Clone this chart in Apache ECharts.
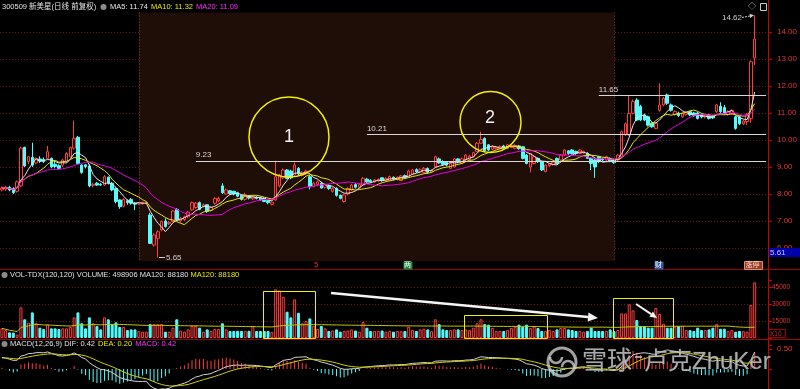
<!DOCTYPE html>
<html>
<head>
<meta charset="utf-8">
<script src="https://cdn.jsdelivr.net/npm/echarts@6.0.0/dist/echarts.min.js"></script>
<style>
html,body{margin:0;padding:0;background:#000;overflow:hidden;}
#chart{width:800px;height:389px;}
</style>
</head>
<body>
<div id="chart"></div>
<script>
// ---------------- data ----------------
const opens = [
8.15,8.18,8.25,8.20,8.10,8.30,9.73,9.20,9.36,9.15,
9.30,9.28,9.32,9.32,9.10,9.05,9.07,9.20,9.38,9.70,
10.10,9.07,9.08,9.04,8.32,8.40,8.36,8.33,8.62,8.40,
8.20,7.78,7.55,7.75,7.80,7.66,7.63,7.64,7.66,7.22,
6.11,6.36,6.67,7.00,6.90,6.98,7.43,7.00,7.05,7.15,
7.41,7.50,7.68,7.55,7.60,7.40,7.66,7.75,8.30,8.00,
8.12,8.10,8.05,7.95,7.80,7.90,7.82,7.88,7.85,7.84,
7.75,7.62,7.78,8.30,8.60,8.89,8.85,8.70,8.95,8.70,
8.75,8.64,8.28,8.35,8.40,8.25,8.30,8.10,8.21,7.95,
7.72,8.00,8.15,8.35,8.25,8.33,8.55,8.50,8.45,8.48,
8.60,8.50,8.50,8.62,8.55,8.50,8.68,8.62,8.74,8.90,
8.82,8.80,8.95,8.82,9.00,9.30,9.20,9.18,8.95,9.00,
9.30,9.15,9.26,9.28,9.38,9.57,9.88,10.06,9.82,9.66,
9.68,9.70,9.78,9.69,9.72,9.70,9.78,9.75,9.44,9.00,
9.13,9.32,9.20,8.83,9.05,9.10,9.32,9.26,9.44,9.60,
9.63,9.58,9.50,9.52,9.50,9.32,9.26,9.38,9.30,9.26,
9.32,9.28,9.26,9.38,10.19,10.19,10.99,11.48,11.24,10.93,
10.86,10.62,10.43,11.10,11.30,11.67,11.30,10.95,11.00,10.86,
10.95,11.05,11.00,11.00,10.95,10.85,10.93,10.90,11.05,11.25,
11.20,10.95,10.98,10.86,10.86,10.60,10.68,10.80,13.04];
const closes = [
8.22,8.25,8.15,8.05,8.45,9.70,9.04,9.38,9.07,9.32,
9.22,9.20,9.57,9.00,9.02,8.95,9.26,9.50,9.72,10.06,
9.13,8.80,9.02,8.30,8.36,8.33,8.33,8.64,8.40,8.15,
7.72,7.53,7.80,7.68,7.66,7.62,7.66,7.68,7.68,6.17,
6.48,6.60,6.98,6.80,6.95,7.37,7.04,7.10,7.15,7.33,
7.68,7.66,7.43,7.60,7.35,7.50,7.84,7.84,8.05,8.15,
8.02,8.00,7.92,7.80,7.98,7.85,7.90,7.84,7.78,7.72,
7.68,7.70,8.64,8.70,8.89,8.58,8.60,9.07,8.75,8.80,
8.85,8.27,8.40,8.45,8.22,8.35,8.20,8.20,7.95,7.84,
7.96,8.20,8.33,8.25,8.35,8.58,8.45,8.45,8.52,8.55,
8.50,8.58,8.65,8.55,8.62,8.67,8.62,8.85,8.89,8.82,
8.90,8.95,8.80,8.88,9.38,9.15,9.10,9.07,9.13,9.30,
9.20,9.30,9.44,9.40,9.53,9.88,10.02,9.60,9.63,9.75,
9.74,9.76,9.72,9.82,9.78,9.80,9.68,9.32,9.13,9.50,
9.38,9.20,8.89,9.07,9.12,9.18,9.13,9.44,9.63,9.50,
9.50,9.50,9.63,9.58,9.32,9.13,9.00,9.20,9.26,9.38,
9.20,9.16,9.44,10.31,10.60,10.98,11.42,10.74,10.74,10.74,
10.55,10.49,10.62,11.30,11.54,11.36,11.10,11.05,10.90,10.99,
11.02,10.93,10.90,10.80,10.85,10.92,10.80,10.82,11.30,11.05,
10.98,11.05,11.10,10.43,10.60,10.70,10.95,12.90,13.74];
const lows = [
8.10,8.12,8.10,8.00,8.05,8.25,9.00,9.10,9.00,9.10,
9.15,9.15,9.30,8.95,8.95,8.90,9.00,9.15,9.35,9.65,
9.10,8.75,8.95,8.25,8.25,8.30,8.30,8.30,8.35,8.10,
7.65,7.45,7.50,7.60,7.60,7.40,7.60,7.60,7.62,6.15,
6.05,5.65,6.62,6.75,6.85,6.95,7.00,6.95,7.00,7.10,
7.38,7.45,7.40,7.50,7.30,7.35,7.60,7.70,8.00,7.98,
7.98,7.95,7.88,7.76,7.75,7.80,7.78,7.80,7.75,7.70,
7.62,7.58,7.75,8.25,8.55,8.55,8.55,8.65,8.70,8.65,
8.70,8.17,8.25,8.30,8.20,8.20,8.15,8.05,7.90,7.80,
7.68,7.95,8.10,8.20,8.20,8.30,8.40,8.42,8.42,8.45,
8.45,8.48,8.48,8.50,8.50,8.48,8.58,8.60,8.70,8.78,
8.78,8.78,8.75,8.80,8.98,9.12,9.05,9.02,8.92,8.98,
9.15,9.12,9.22,9.25,9.35,9.55,9.85,9.55,9.60,9.62,
9.65,9.66,9.68,9.66,9.70,9.66,9.64,9.28,9.10,8.80,
9.10,9.15,8.85,8.80,9.00,9.05,9.10,9.22,9.40,9.45,
9.46,9.45,9.48,9.50,9.30,8.89,8.60,9.15,9.20,9.22,
9.18,9.12,9.22,9.35,10.15,10.15,10.95,10.70,10.70,10.70,
10.50,10.45,10.40,11.05,11.25,11.30,11.05,10.90,10.85,10.82,
10.90,10.88,10.86,10.76,10.80,10.80,10.76,10.78,11.00,11.00,
10.94,10.90,10.94,10.38,10.55,10.55,10.55,10.63,12.78];
const highs = [
8.28,8.30,8.30,8.25,8.50,9.75,9.75,9.40,9.90,9.35,
9.40,9.35,9.78,9.35,9.20,9.10,9.30,9.55,9.75,10.72,
10.15,9.10,9.10,9.10,8.42,8.45,8.40,8.70,8.65,8.45,
8.25,7.80,7.85,7.80,7.85,7.70,7.70,7.72,7.72,7.30,
6.55,6.65,7.02,7.10,7.00,7.40,7.48,7.15,7.20,7.38,
7.72,7.70,7.72,7.65,7.62,7.55,7.88,7.90,8.40,8.20,
8.15,8.12,8.08,7.98,8.05,7.95,7.95,7.92,7.90,7.88,
7.78,7.72,9.23,8.75,8.95,8.92,8.90,9.17,9.00,8.85,
8.90,8.70,8.45,8.50,8.45,8.40,8.35,8.25,8.25,7.98,
8.00,8.25,8.38,8.40,8.40,8.62,8.60,8.55,8.55,8.58,
8.62,8.62,8.68,8.65,8.65,8.70,8.72,8.90,8.92,8.95,
8.95,9.00,8.98,8.92,9.42,9.35,9.25,9.20,9.18,9.33,
9.33,9.35,9.48,9.45,9.56,9.92,10.31,10.10,9.85,9.80,
9.78,9.80,9.82,9.85,9.82,9.84,9.82,9.78,9.48,9.52,
9.42,9.35,9.22,9.10,9.15,9.20,9.35,9.48,9.66,9.62,
9.66,9.60,9.66,9.60,9.55,9.35,9.30,9.40,9.35,9.42,
9.35,9.30,9.48,10.35,10.65,11.65,11.50,11.55,11.30,10.98,
10.90,10.65,10.66,12.10,11.60,11.72,11.35,11.10,11.05,11.03,
11.06,11.08,11.04,11.04,10.98,10.96,10.96,10.94,11.34,11.40,
11.30,11.10,11.14,10.90,10.90,10.75,11.00,12.95,14.62];
// volume in the axis unit (x10 shares)
const volumes = [
8500,7000,5000,4800,3000,27000,16500,13500,22600,13000,
9100,7900,12000,8500,8500,7900,8500,8500,9700,18200,
22600,13000,8500,18200,13000,10500,7600,18200,16500,12000,
13800,9700,9700,7000,7600,7600,6000,5600,5600,12300,
12300,12300,12300,5600,5600,9100,16500,6600,5600,7600,
10600,10600,9100,5600,7600,6200,7900,7900,13000,7600,
6200,6200,6400,6200,6200,6400,10600,6200,6200,6200,
6200,5300,43000,42000,36400,23200,18200,34100,22300,13000,
15000,17300,10600,8000,10600,8500,6200,6600,7600,5600,
6200,6600,7600,6600,5600,14100,9100,6200,6200,6200,
6600,5600,6200,5600,6200,6000,6200,10000,7000,6200,
7600,8200,7600,6000,16500,12300,7600,7000,7000,7600,
7600,7000,7600,7000,9100,13000,16500,12300,11800,8800,
6200,6200,6200,7000,8800,10000,11800,10000,11800,8800,
10000,8800,6200,6200,7000,6200,7600,8800,8800,7600,
7000,6200,6200,5600,6200,9100,6200,6200,6200,6200,
7600,6000,7000,21700,21700,29700,24400,15900,10500,10500,
9100,9100,26500,21200,12600,9100,9100,10000,10600,10800,
7000,7000,6200,9100,7000,7000,7600,9100,12300,8200,
8200,6200,7000,5600,6200,6000,5600,29100,49100];

const N_SLOTS = 202;                 // trading-day slots on the x axis (last 3 empty)
const categories = [];
for (let i = 0; i < N_SLOTS; i++) categories.push('D' + (i + 1));

const priceLines = [9.23, 10.21, 11.65];     // drawn support / resistance levels
const priceLineStart = [51, 96, 157];        // category index where each level starts
const shadeRange = [36, 161];                // shaded period (category indices)
const volTicks = [15000, 30000, 45000];
// MACD state at the left edge (DIF ~0.31, DEA ~0.27)
const macdSeed = {difStart: 0.31, deaStart: 0.27};
const headerMain = {title: '300509 新美星(日线 前复权)', ma5: 'MA5: 11.74', ma10: 'MA10: 11.32', ma20: 'MA20: 11.09'};
const headerVol = {a: 'VOL-TDX(120,120) VOLUME: 498906 MA120: 88180', b: 'MA120: 88180'};
const headerMacd = {a: 'MACD(12,26,9) DIF: 0.42', b: 'DEA: 0.20', c: 'MACD: 0.42'};

// ---------------- indicators derived from the candles ----------------
function movingAverage(vals, n) {
  const out = []; let sum = 0;
  for (let i = 0; i < vals.length; i++) {
    sum += vals[i]; if (i >= n) sum -= vals[i - n];
    out.push(+(sum / Math.min(i + 1, n)).toFixed(4));
  }
  return out;
}
function ema(vals, n, start) {
  const k = 2 / (n + 1); const out = []; let e = (start === undefined) ? vals[0] : start;
  for (const v of vals) { e = e + k * (v - e); out.push(e); }
  return out;
}
const ma5 = movingAverage(closes, 5);
const ma10 = movingAverage(closes, 10);
const ma20 = movingAverage(closes, 20);
const volMa = movingAverage(volumes, 120);
const e12 = ema(closes, 12, closes[0]);
const e26 = ema(closes, 26, closes[0] - macdSeed.difStart);
const dif = closes.map((c, i) => +(e12[i] - e26[i]).toFixed(4));
const dea = ema(dif, 9, macdSeed.deaStart).map(v => +v.toFixed(4));
const macd = dif.map((d, i) => +(2 * (d - dea[i])).toFixed(4));

// ---------------- chart ----------------
const RED = '#ff3c3c', CYAN = '#54fcfc', AXIS = '#c80000', LBL = '#e23838', GRIDC = '#6e1818';
const FONT = '"Liberation Sans","Noto Sans CJK SC",sans-serif';
const chart = echarts.init(document.getElementById('chart'), null, {renderer: 'canvas'});

const candleData = opens.map((o, i) => [o, closes[i], lows[i], highs[i]]);
const volData = volumes.map((v, i) => ({
  value: v,
  itemStyle: closes[i] >= opens[i]
    ? {color: 'rgba(0,0,0,0)', borderColor: RED, borderWidth: 1}
    : {color: CYAN, borderColor: CYAN, borderWidth: 1}
}));
const macdData = macd.map(v => ({value: v, itemStyle: {color: v >= 0 ? RED : CYAN}}));

function rightAxis(gridIndex, extra) {
  return Object.assign({
    gridIndex, type: 'value', position: 'right', scale: false,
    axisLine: {show: true, onZero: false, lineStyle: {color: AXIS, width: 1}},
    axisTick: {show: true, length: 4, lineStyle: {color: AXIS}},
    splitLine: {show: false}
  }, extra);
}

const levelLines = priceLines.map((p, k) => [
  {coord: [categories[priceLineStart[k]], p],
   label: {show: true, position: 'insideStartTop', formatter: p.toFixed(2), color: '#d8d8d8', fontSize: 8, fontFamily: FONT, distance: [0, 2]}},
  {coord: [categories[N_SLOTS - 1], p]}
]);

function arrow(x1, y1, x2, y2, color, w, head) {
  const a = Math.atan2(y2 - y1, x2 - x1);
  const hx = x2 - head * Math.cos(a), hy = y2 - head * Math.sin(a);
  const px = -Math.sin(a) * head * 0.45, py = Math.cos(a) * head * 0.45;
  return [
    {type: 'line', z: 100, silent: true, shape: {x1, y1, x2: hx, y2: hy}, style: {stroke: color, lineWidth: w}},
    {type: 'polygon', z: 100, silent: true, shape: {points: [[x2, y2], [hx + px, hy + py], [hx - px, hy - py]]}, style: {fill: color}}
  ];
}
function txt(x, y, text, fill, size, extra) {
  return Object.assign({type: 'text', z: 100, silent: true, x, y,
    style: Object.assign({text, fill, font: size + 'px ' + FONT, verticalAlign: 'middle', align: 'left'}, (extra || {}))});
}
function box(x, y, w, h, fill, stroke) {
  return {type: 'rect', z: 100, silent: true, shape: {x, y, width: w, height: h}, style: {fill, stroke: stroke || null, lineWidth: 1}};
}

const mctx = document.createElement('canvas').getContext('2d');
function tw(s, size) { mctx.font = size + 'px ' + FONT; return mctx.measureText(s).width; }

const graphics = [
  {type: 'line', z: 90, silent: true, shape: {x1: 768.5, y1: 0, x2: 768.5, y2: 389}, style: {stroke: AXIS, lineWidth: 1}},
  {type: 'line', z: 90, silent: true, shape: {x1: 0, y1: 269.5, x2: 800, y2: 269.5}, style: {stroke: '#a00000', lineWidth: 1}},
  {type: 'line', z: 90, silent: true, shape: {x1: 0, y1: 339.5, x2: 800, y2: 339.5}, style: {stroke: '#a00000', lineWidth: 1}},
  txt(2, 7, headerMain.title, '#e0e0e0', 7.5),
  {type: 'circle', z: 100, silent: true, shape: {cx: 103.5, cy: 7, r: 3}, style: {fill: '#8a8a8a'}},
  txt(110, 7, headerMain.ma5, '#e8e8e8', 7.5),
  txt(151, 7, headerMain.ma10, '#e8e800', 7.5),
  txt(196, 7, headerMain.ma20, '#ff30ff', 7.5),
  {type: 'circle', z: 100, silent: true, shape: {cx: 4.5, cy: 275, r: 3}, style: {fill: '#8a8a8a'}},
  txt(10, 275, headerVol.a, '#e0e0e0', 7.5),
  txt(12 + tw(headerVol.a, 7.5), 275, headerVol.b, '#e8e800', 7.5),
  {type: 'circle', z: 100, silent: true, shape: {cx: 4.5, cy: 344, r: 3}, style: {fill: '#8a8a8a'}},
  txt(10, 344, headerMacd.a, '#e0e0e0', 7.5),
  txt(13 + tw(headerMacd.a, 7.5), 344, headerMacd.b, '#e8e800', 7.5),
  txt(16 + tw(headerMacd.a, 7.5) + tw(headerMacd.b, 7.5), 344, headerMacd.c, '#ff30ff', 7.5),
  txt(748, 7, '◇', '#c8c8c8', 8),
  box(760.5, 3.5, 6, 7, 'rgba(0,0,0,0)', '#c8c8c8'),
  txt(722, 18, '14.62', '#d0d0d0', 8),
  {type: 'line', z: 100, silent: true, shape: {x1: 742, y1: 17.5, x2: 750, y2: 16}, style: {stroke: '#d0d0d0', lineWidth: 1, lineDash: [2, 1]}},
  {type: 'polygon', z: 100, silent: true, shape: {points: [[754, 15.3], [749.5, 13.8], [750.2, 18]]}, style: {fill: '#d0d0d0'}},
  {type: 'line', z: 100, silent: true, shape: {x1: 159, y1: 257.5, x2: 165, y2: 257.5}, style: {stroke: '#d0d0d0', lineWidth: 1}},
  txt(166, 257.5, '5.65', '#d0d0d0', 8),
  box(769, 248, 31, 9, '#0000a8'),
  txt(770, 252.5, '5.61', '#c8c8ff', 8),
  txt(314, 265, '5', '#e03030', 8),
  box(403.5, 261.5, 9, 8, '#1e8a3c'),
  txt(404, 265.5, '两', '#ffffff', 7),
  box(654.5, 261.5, 9, 8, '#2e5e9e'),
  txt(655, 265.5, '财', '#ffffff', 7),
  box(744.5, 261.5, 18, 8, '#9a3a22', '#d89070'),
  txt(745.5, 265.5, '涨停', '#ffe0d0', 7),
  {type: 'circle', z: 100, silent: true, shape: {cx: 289, cy: 137, r: 40}, style: {fill: 'none', stroke: '#f0f000', lineWidth: 1.5}},
  txt(284, 137, '1', '#f0f0f0', 18),
  {type: 'circle', z: 100, silent: true, shape: {cx: 490.5, cy: 122, r: 30.5}, style: {fill: 'none', stroke: '#f0f000', lineWidth: 1.5}},
  txt(485, 118, '2', '#f0f0f0', 18),
  box(263.5, 291.5, 52, 47, 'rgba(0,0,0,0)', '#f0f000'),
  box(464.5, 315.5, 83, 23, 'rgba(0,0,0,0)', '#f0f000'),
  box(613.5, 298.5, 60, 40, 'rgba(0,0,0,0)', '#f0f000'),
  box(768.5, 329.5, 17, 8, 'rgba(0,0,0,0)', '#a00000'),
  txt(770, 334, 'X10', '#c03030', 6.5),
  {type: 'circle', z: 110, silent: true, shape: {cx: 562, cy: 362, r: 14}, style: {fill: 'none', stroke: 'rgba(215,215,215,0.75)', lineWidth: 3}},
  {type: 'arc', z: 110, silent: true, shape: {cx: 556, cy: 357, r: 6, startAngle: 0, endAngle: Math.PI}, style: {fill: 'none', stroke: 'rgba(215,215,215,0.75)', lineWidth: 2.5}},
  {type: 'arc', z: 110, silent: true, shape: {cx: 568, cy: 367, r: 6, startAngle: Math.PI, endAngle: 2 * Math.PI}, style: {fill: 'none', stroke: 'rgba(215,215,215,0.75)', lineWidth: 2.5}},
  txt(582, 362, '雪球', 'rgba(215,215,215,0.78)', 25, {stroke: 'rgba(40,40,40,0.6)', lineWidth: 1}),
  {type: 'line', z: 110, silent: true, shape: {x1: 635, y1: 357, x2: 642, y2: 357}, style: {stroke: 'rgba(215,215,215,0.7)', lineWidth: 2}},
  txt(644, 362, '卢克ZhuKer', 'rgba(215,215,215,0.78)', 24, {stroke: 'rgba(40,40,40,0.6)', lineWidth: 1})
].concat(arrow(331, 293, 598, 318, '#f4f4f4', 2.5, 10))
 .concat(arrow(636, 304, 657, 318, '#f4f4f4', 2, 7));

const option = {
  backgroundColor: '#000',
  animation: false,
  grid: [
    {left: 0, right: 32, top: 5, height: 270},
    {left: 0, right: 32, top: 280, height: 58},
    {left: 0, right: 32, top: 344.8, height: 57.2}
  ],
  xAxis: [0, 1, 2].map(g => ({type: 'category', gridIndex: g, data: categories, boundaryGap: true, show: false})),
  yAxis: [
    rightAxis(0, {min: 5, max: 15, interval: 1,
      axisLabel: {color: LBL, fontSize: 8, fontFamily: FONT, margin: 9, showMinLabel: false, showMaxLabel: false, formatter: v => v.toFixed(2)},
      splitLine: {show: true, showMinLine: false, showMaxLine: false, lineStyle: {color: GRIDC, type: [1, 2]}}}),
    rightAxis(1, {min: 0, max: 51200, interval: 15000,
      axisLabel: {color: LBL, fontSize: 6.5, fontFamily: FONT, margin: 4, formatter: v => volTicks.indexOf(v) >= 0 ? String(v) : ''},
      splitLine: {show: true, showMinLine: false, showMaxLine: false, lineStyle: {color: GRIDC, type: [1, 2]}}}),
    rightAxis(2, {min: -0.5, max: 0.6, interval: 0.5,
      axisLabel: {color: LBL, fontSize: 8, fontFamily: FONT, margin: 9, formatter: v => Math.abs(v - 0.5) < 1e-6 ? '0.50' : ''}})
  ],
  series: [
    {name: 'shade', type: 'line', xAxisIndex: 0, yAxisIndex: 0, data: closes, z: 0, silent: true,
     symbol: 'none', lineStyle: {opacity: 0},
     markArea: {silent: true, itemStyle: {color: '#1f0d07'},
       data: [[{xAxis: categories[shadeRange[0]], yAxis: 14.72}, {xAxis: categories[shadeRange[1]], yAxis: 5.52}]]},
     markLine: {silent: true, symbol: ['none', 'none'], label: {show: false}, lineStyle: {color: '#8a4a2a', width: 1, type: [1, 2]},
       data: shadeRange.map(ix => [{coord: [categories[ix], 14.72]}, {coord: [categories[ix], 5.52]}])}},
    {name: 'K', type: 'candlestick', xAxisIndex: 0, yAxisIndex: 0, data: candleData, z: 3, barWidth: 3,
     itemStyle: {color: 'rgba(0,0,0,0)', color0: CYAN, borderColor: RED, borderColor0: CYAN, borderWidth: 1},
     markLine: {silent: true, symbol: ['none', 'none'], lineStyle: {color: '#d8d8d8', width: 1, type: 'solid'}, data: levelLines}},
    {name: 'MA5', type: 'line', xAxisIndex: 0, yAxisIndex: 0, data: ma5, z: 4, symbol: 'none', lineStyle: {color: '#e6e6e6', width: 1}},
    {name: 'MA10', type: 'line', xAxisIndex: 0, yAxisIndex: 0, data: ma10, z: 4, symbol: 'none', lineStyle: {color: '#e6e600', width: 1}},
    {name: 'MA20', type: 'line', xAxisIndex: 0, yAxisIndex: 0, data: ma20, z: 4, symbol: 'none', lineStyle: {color: '#e600e6', width: 1}},
    {name: 'VOL', type: 'bar', xAxisIndex: 1, yAxisIndex: 1, data: volData, barWidth: 3},
    {name: 'VOLMA', type: 'line', xAxisIndex: 1, yAxisIndex: 1, data: volMa, symbol: 'none', z: 4, lineStyle: {color: '#c8c800', width: 1}},
    {name: 'MACD', type: 'bar', xAxisIndex: 2, yAxisIndex: 2, data: macdData, barWidth: 1},
    {name: 'DIF', type: 'line', xAxisIndex: 2, yAxisIndex: 2, data: dif, symbol: 'none', z: 4, lineStyle: {color: '#d4d4d4', width: 1}},
    {name: 'DEA', type: 'line', xAxisIndex: 2, yAxisIndex: 2, data: dea, symbol: 'none', z: 4, lineStyle: {color: '#d0d000', width: 1}}
  ],
  graphic: graphics
};
chart.setOption(option);
</script>
</body>
</html>
